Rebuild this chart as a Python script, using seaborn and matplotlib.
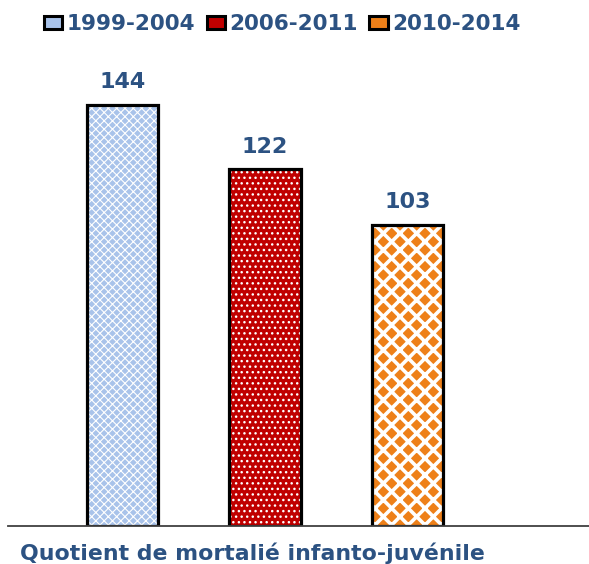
import matplotlib
matplotlib.use("Agg")
import matplotlib.pyplot as plt
import seaborn as sns
import pandas as pd
from matplotlib.patches import Patch

# Under-five mortality quotient by survey period
periods = ["1999-2004", "2006-2011", "2010-2014"]
values = [144, 122, 103]
indicator = "Quotient de mortalié infanto-juvénile"

face_colors = ["#A9C3EA", "#C00000", "#EE8019"]
hatches = ["xxxx", "...", "xx"]
hatch_widths = [0.8, 1.0, 2.6]
text_color = "#2C5282"

df = pd.DataFrame({"period": periods, "value": values})

sns.set_theme(style="white")
plt.rcParams["font.family"] = ["DejaVu Sans"]

fig = plt.figure(figsize=(5.89, 5.64), dpi=100)
ax = fig.add_axes([8 / 589, 38 / 564, 1 - 8 / 589, 481 / 564])

# filled, hatched bars
sns.barplot(data=df, x="period", y="value", hue="period",
            palette=dict(zip(periods, face_colors)), width=0.5,
            linewidth=0, legend=False, ax=ax, saturation=1)
for cont, h, hw in zip(ax.containers, hatches, hatch_widths):
    for p in cont:
        p.set_hatch(h)
        p.set_edgecolor("white")
        p.set_linewidth(0)
        if hasattr(p, "set_hatch_linewidth"):
            p.set_hatch_linewidth(hw)

# black outlines on top
sns.barplot(data=df, x="period", y="value", hue="period",
            palette=dict(zip(periods, ["black"] * 3)), width=0.5,
            fill=False, linewidth=2.3, legend=False, ax=ax)

for cont in ax.containers[:3]:
    ax.bar_label(cont, fmt="%d", padding=9, color=text_color,
                 fontsize=16, fontweight="bold")

ax.set_xlim(-0.8, 3.27)
ax.set_ylim(0, 164.5)
ax.set_xlabel("")
ax.set_ylabel("")
ax.set_xticks([])
ax.set_yticks([])
for s in ["top", "left", "right"]:
    ax.spines[s].set_visible(False)
ax.spines["bottom"].set_color("#404040")
ax.spines["bottom"].set_linewidth(1.3)

handles = [Patch(facecolor=c, edgecolor="black", linewidth=2.2) for c in face_colors]
fig.legend(handles, periods, loc="center", bbox_to_anchor=(282 / 589, 0.957),
           ncol=3, frameon=False, handlelength=0.85, handleheight=0.6,
           handletextpad=0.2, columnspacing=0.55,
           prop={"weight": "bold", "size": 15.5}, labelcolor=text_color)

fig.text(20 / 589, 1 - 553 / 564, indicator, ha="left", va="center",
         color=text_color, fontsize=15.8, fontweight="bold")

fig.savefig("out.png", dpi=100, facecolor="white")
